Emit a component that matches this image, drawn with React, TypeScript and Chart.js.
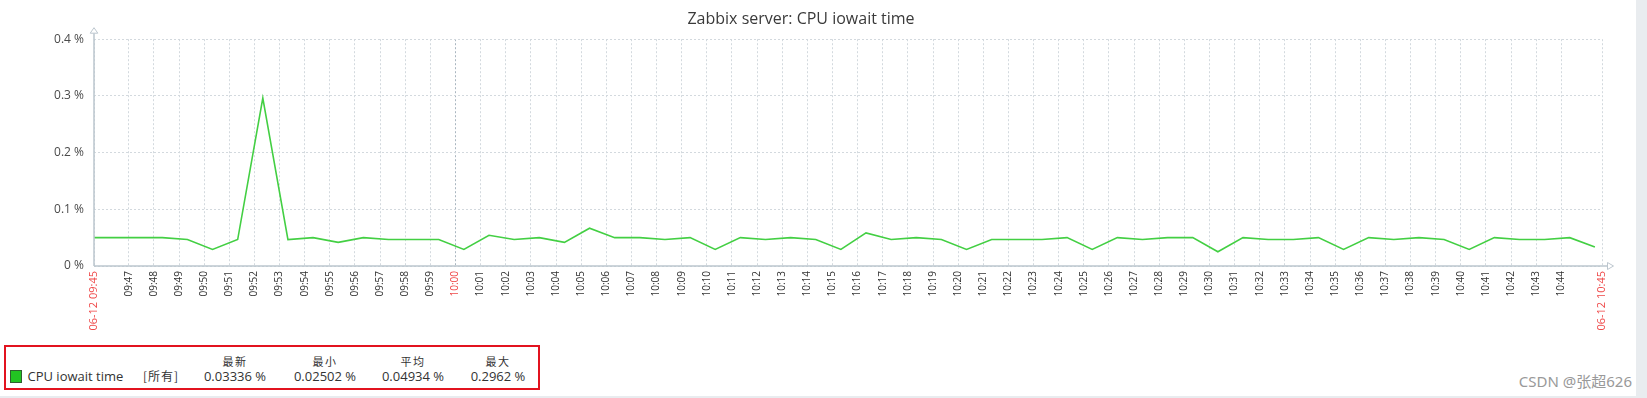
import React, { useEffect, useRef } from "react";
import { Chart, registerables } from "chart.js";

Chart.register(...registerables);

const TITLE = "Zabbix server: CPU iowait time";
const SERIES_NAME = "CPU iowait time";
const SERIES_SCOPE = "[所有]";

// sample timestamps (one per minute)
const sampleTimes = [
  "09:45:20", "09:46:20", "09:47:20", "09:48:20", "09:49:20", "09:50:20", "09:51:20", "09:52:20",
  "09:53:20", "09:54:20", "09:55:20", "09:56:20", "09:57:20", "09:58:20", "09:59:20", "10:00:20",
  "10:01:20", "10:02:20", "10:03:20", "10:04:20", "10:05:20", "10:06:20", "10:07:20", "10:08:20",
  "10:09:20", "10:10:20", "10:11:20", "10:12:20", "10:13:20", "10:14:20", "10:15:20", "10:16:20",
  "10:17:20", "10:18:20", "10:19:20", "10:20:20", "10:21:20", "10:22:20", "10:23:20", "10:24:20",
  "10:25:20", "10:26:20", "10:27:20", "10:28:20", "10:29:20", "10:30:20", "10:31:20", "10:32:20",
  "10:33:20", "10:34:20", "10:35:20", "10:36:20", "10:37:20", "10:38:20", "10:39:20", "10:40:20",
  "10:41:20", "10:42:20", "10:43:20", "10:44:20", "10:45:20",
];

// CPU iowait time, %
const iowaitValues = [
  0.05, 0.05, 0.05, 0.05, 0.04667, 0.02917, 0.04667, 0.2962,
  0.04667, 0.05, 0.04167, 0.05, 0.04667, 0.04667, 0.04667, 0.02917,
  0.05417, 0.04667, 0.05, 0.04167, 0.06667, 0.05, 0.05, 0.04667,
  0.05, 0.02917, 0.05, 0.04667, 0.05, 0.04667, 0.02917, 0.05833,
  0.04667, 0.05, 0.04667, 0.02917, 0.04667, 0.04667, 0.04667, 0.05,
  0.02917, 0.05, 0.04667, 0.05, 0.05, 0.02502, 0.05, 0.04667,
  0.04667, 0.05, 0.02917, 0.05, 0.04667, 0.05, 0.04667, 0.02917,
  0.05, 0.04667, 0.04667, 0.05, 0.03336,
];

const rangeStart = "09:45:37";
const rangeEnd = "10:45:37";
const rangeLabels = ["06-12 09:45", "06-12 10:45"];
const highlightTick = "10:00";

const minuteTicks = [
  "09:47", "09:48", "09:49", "09:50", "09:51", "09:52", "09:53", "09:54", "09:55", "09:56",
  "09:57", "09:58", "09:59", "10:00", "10:01", "10:02", "10:03", "10:04", "10:05", "10:06",
  "10:07", "10:08", "10:09", "10:10", "10:11", "10:12", "10:13", "10:14", "10:15", "10:16",
  "10:17", "10:18", "10:19", "10:20", "10:21", "10:22", "10:23", "10:24", "10:25", "10:26",
  "10:27", "10:28", "10:29", "10:30", "10:31", "10:32", "10:33", "10:34", "10:35", "10:36",
  "10:37", "10:38", "10:39", "10:40", "10:41", "10:42", "10:43", "10:44",
];

const yTicks = [0, 0.1, 0.2, 0.3, 0.4];

const statHeaders = ["最新", "最小", "平均", "最大"];
const statValues = ["0.03336 %", "0.02502 %", "0.04934 %", "0.2962 %"];

const toMin = (t: string) => {
  const p = t.split(":").map(Number);
  return p[0] * 60 + p[1] + (p[2] || 0) / 60;
};

const LINE_COLOR = "#43cf43";
const AXIS_COLOR = "#bcc6ce";
const GRID_COLOR = "#d3d9de";
const GRID_STRONG = "#aab6c0";
const RED = "#ef4848";
const FONT = "'Open Sans', 'Noto Sans', sans-serif";
const CJK = "'Noto Sans CJK SC', sans-serif";

const CANVAS_W = 1636;
const CANVAS_H = 340;

const axesPlugin = {
  id: "zbxAxes",
  afterDraw(chart: any) {
    const { ctx, chartArea } = chart;
    const { left, right, top, bottom } = chartArea;
    ctx.save();
    ctx.strokeStyle = AXIS_COLOR;
    ctx.lineWidth = 1.5;
    ctx.beginPath();
    ctx.moveTo(left, bottom);
    ctx.lineTo(left, top - 6);
    ctx.moveTo(left, bottom);
    ctx.lineTo(right + 5.5, bottom);
    ctx.stroke();
    ctx.lineWidth = 1;
    ctx.fillStyle = "#ffffff";
    ctx.beginPath();
    ctx.moveTo(left - 3.8, top - 6);
    ctx.lineTo(left + 3.8, top - 6);
    ctx.lineTo(left, top - 11.5);
    ctx.closePath();
    ctx.fill();
    ctx.stroke();
    ctx.beginPath();
    ctx.moveTo(right + 5.5, bottom - 3.5);
    ctx.lineTo(right + 5.5, bottom + 3.5);
    ctx.lineTo(right + 11.5, bottom);
    ctx.closePath();
    ctx.fill();
    ctx.stroke();
    ctx.restore();
  },
};

function ZabbixChart() {
  const ref = useRef<HTMLCanvasElement | null>(null);

  useEffect(() => {
    if (!ref.current) return;
    const startV = toMin(rangeStart);
    const endV = toMin(rangeEnd);
    const tickVals = [startV, ...minuteTicks.map(toMin), endV];
    const lastIdx = tickVals.length - 1;
    const hiV = toMin(highlightTick);
    const isRedIdx = (i: number) =>
      i === 0 || i === lastIdx || (i > 0 && i < lastIdx && minuteTicks[i - 1] === highlightTick);

    const chart = new Chart(ref.current, {
      type: "line",
      data: {
        datasets: [
          {
            label: SERIES_NAME,
            data: sampleTimes.map((t, i) => ({ x: toMin(t), y: iowaitValues[i] })),
            borderColor: LINE_COLOR,
            backgroundColor: LINE_COLOR,
            borderWidth: 1.6,
            pointRadius: 0,
            tension: 0,
            fill: false,
          },
        ],
      },
      options: {
        responsive: false,
        animation: false,
        events: [],
        layout: { padding: { left: 0, right: CANVAS_W - 1602, top: 0, bottom: 0 } },
        plugins: {
          legend: { display: false },
          tooltip: { enabled: false },
          title: {
            display: true,
            text: TITLE,
            color: "#3a3a3a",
            font: { family: FONT, size: 16, weight: "normal" },
            padding: { top: 10, bottom: 10 },
          },
        },
        scales: {
          x: {
            type: "linear",
            min: startV,
            max: endV,
            afterBuildTicks: (axis: any) => {
              axis.ticks = tickVals.map((value) => ({ value }));
            },
            afterFit: (s: any) => {
              s.height = CANVAS_H - 266;
            },
            ticks: {
              autoSkip: false,
              maxRotation: 90,
              minRotation: 90,
              padding: 5,
              color: (c: any) => (isRedIdx(c.index) ? RED : "#333333"),
              font: (c: any) => ({
                family: FONT,
                size: c.index === 0 || c.index === lastIdx ? 11 : 10,
              }),
              callback: (_v: any, i: number) =>
                i === 0 ? rangeLabels[0] : i === lastIdx ? rangeLabels[1] : minuteTicks[i - 1],
            },
            grid: {
              drawTicks: false,
              lineWidth: 1,
              color: (c: any) =>
                c.tick && Math.abs(c.tick.value - hiV) < 1e-6 ? GRID_STRONG : GRID_COLOR,
            },
            border: { display: false, dash: [2, 2] },
          },
          y: {
            type: "linear",
            min: 0,
            max: 0.4,
            afterBuildTicks: (axis: any) => {
              axis.ticks = yTicks.map((value) => ({ value }));
            },
            afterFit: (s: any) => {
              s.width = 94;
            },
            ticks: {
              padding: 10,
              color: "#4a4a4a",
              font: { family: FONT, size: 12 },
              callback: (v: any) => (v === 0 ? "0" : Number(v).toFixed(1)) + " %",
            },
            grid: { drawTicks: false, color: GRID_COLOR, lineWidth: 1 },
            border: { display: false, dash: [2, 2] },
          },
        },
      },
      plugins: [axesPlugin],
    });
    return () => chart.destroy();
  }, []);

  return (
    <canvas
      ref={ref}
      width={CANVAS_W}
      height={CANVAS_H}
      style={{ position: "absolute", left: 0, top: 0 }}
    />
  );
}

const statCenters = [235, 325, 413, 498];

export default function App() {
  return (
    <div
      style={{
        position: "relative",
        width: 1647,
        height: 398,
        background: "#e9ecef",
        overflow: "hidden",
      }}
    >
      <style>{`body{margin:0;}`}</style>
      <div
        style={{
          position: "absolute",
          left: 0,
          top: 0,
          width: 1636,
          height: 396,
          background: "#ffffff",
        }}
      >
        <ZabbixChart />
        <div
          style={{
            position: "absolute",
            left: 4,
            top: 345,
            width: 536,
            height: 45,
            border: "2px solid #e2131f",
            boxSizing: "border-box",
          }}
        />
        <div
          style={{
            position: "absolute",
            left: 9.5,
            top: 370,
            width: 12.5,
            height: 12.5,
            boxSizing: "border-box",
            background: "#22c422",
            border: "1px solid #2f5f2f",
          }}
        />
        <div
          style={{
            position: "absolute",
            left: 27.5,
            top: 367,
            fontFamily: FONT,
            fontSize: 13,
            lineHeight: "18px",
            color: "#333",
            whiteSpace: "nowrap",
          }}
        >
          {SERIES_NAME}
        </div>
        <div
          style={{
            position: "absolute",
            left: 143,
            top: 367,
            fontFamily: CJK,
            fontSize: 12,
            lineHeight: "18px",
            letterSpacing: 1,
            color: "#333",
            whiteSpace: "nowrap",
          }}
        >
          {SERIES_SCOPE}
        </div>
        {statHeaders.map((h, i) => (
          <div
            key={"h" + i}
            style={{
              position: "absolute",
              left: statCenters[i] - 40,
              width: 80,
              top: 353,
              textAlign: "center",
              fontFamily: CJK,
              fontSize: 11,
              letterSpacing: 1.5,
              lineHeight: "16px",
              color: "#333",
            }}
          >
            {h}
          </div>
        ))}
        {statValues.map((v, i) => (
          <div
            key={"v" + i}
            style={{
              position: "absolute",
              left: statCenters[i] - 45,
              width: 90,
              top: 367,
              textAlign: "center",
              fontFamily: FONT,
              fontSize: 13,
              lineHeight: "18px",
              color: "#333",
              whiteSpace: "nowrap",
            }}
          >
            {v}
          </div>
        ))}
        <div
          style={{
            position: "absolute",
            right: 4,
            top: 371,
            fontFamily: "'Noto Sans', 'Noto Sans CJK SC', sans-serif",
            fontSize: 15,
            lineHeight: "20px",
            color: "#999",
            whiteSpace: "nowrap",
          }}
        >
          CSDN @张超626
        </div>
      </div>
    </div>
  );
}
